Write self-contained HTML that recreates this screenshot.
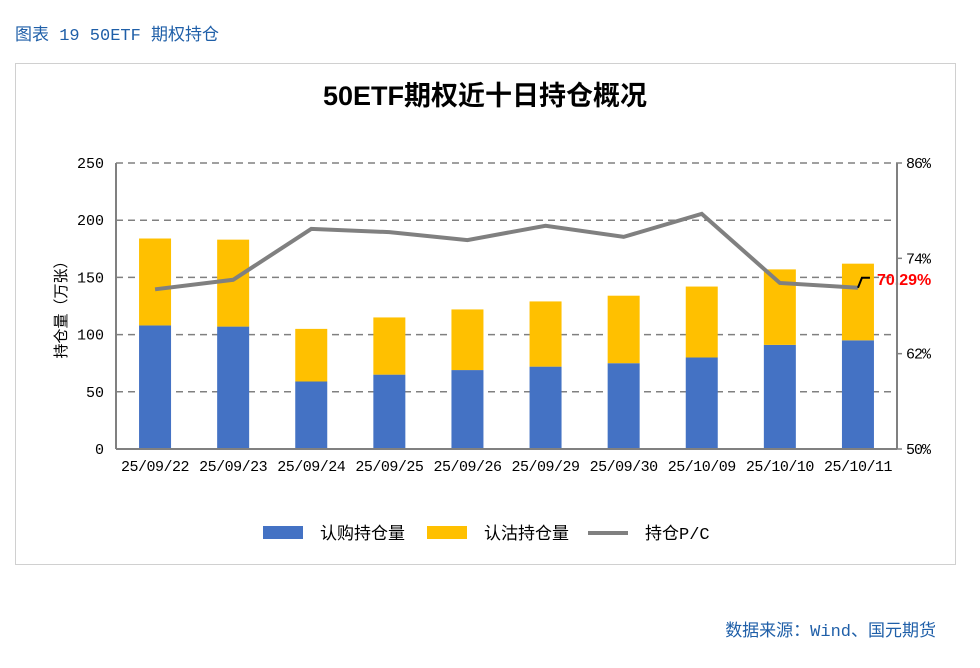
<!DOCTYPE html>
<html><head><meta charset="utf-8"><style>
body{margin:0;width:980px;height:668px;background:#fff;font-family:"Liberation Mono","Noto Sans CJK SC",monospace;position:relative;overflow:hidden}
.hdr{position:absolute;left:15px;top:20px;font-size:17px;color:#1f5fa8}
.ftr{position:absolute;right:44px;top:616px;font-size:17px;color:#1f5fa8}
.frame{position:absolute;left:15px;top:63px;width:939px;height:500px;border:1px solid #d0d0d0}
svg text{font-family:"Liberation Mono","Noto Sans CJK SC",monospace}
</style></head><body>
<div class="hdr">图表 19 50ETF 期权持仓</div>
<div class="frame"></div>
<svg id="chart" width="980" height="668" style="position:absolute;left:0;top:0">
<text x="485" y="105" text-anchor="middle" font-size="27" font-weight="bold" style="font-family:'Liberation Sans','Noto Sans CJK SC',sans-serif">50ETF期权近十日持仓概况</text>
<g id="grid"></g><g id="bars"></g><g id="line"></g><g id="axes"></g>
</svg>
<div class="ftr">数据来源：Wind、国元期货</div>
<script>
const categories=["25/09/22","25/09/23","25/09/24","25/09/25","25/09/26","25/09/29","25/09/30","25/10/09","25/10/10","25/10/11"];
const callOI=[108,107,59,65,69,72,75,80,91,95];
const putOI=[76,76,46,50,53,57,59,62,66,67];
const pcRatio=[70.1,71.3,77.7,77.3,76.3,78.1,76.7,79.6,70.9,70.29];
const leftTicks=[0,50,100,150,200,250];
const rightTicks=[50,62,74,86];
const L=116,R=897,T=163,B=449;
const NS="http://www.w3.org/2000/svg";
const yL=v=>B-(v/250)*(B-T);
const yR=v=>B-((v-50)/36)*(B-T);
const bw=(R-L)/categories.length;
const xC=i=>L+bw*(i+0.5);
function mk(tag,attrs,parent,txt){const e=document.createElementNS(NS,tag);for(const k in attrs)e.setAttribute(k,attrs[k]);if(txt!==undefined)e.textContent=txt;document.getElementById(parent).appendChild(e);return e;}
leftTicks.forEach(t=>{
 if(t>0){const g=mk('line',{x1:L,x2:R,y1:yL(t),y2:yL(t),stroke:'#808080','stroke-width':1.5,'stroke-dasharray':'7,5'},'grid');
 }
 const tx=mk('text',{x:104,y:yL(t)+5,'text-anchor':'end','font-size':15},'axes',t);
 
});
rightTicks.forEach(t=>{
 const tk=mk('line',{x1:R,x2:R+5,y1:yR(t),y2:yR(t),stroke:'#808080','stroke-width':1.5},'axes');
 
 const tx=mk('text',{x:906,y:yR(t)+5,'font-size':15,'letter-spacing':'-1'},'axes',t+'%');
 
});
categories.forEach((c,i)=>{
 const x=xC(i)-16;
 const b1=mk('rect',{x:x,y:yL(callOI[i]),width:32,height:B-yL(callOI[i]),fill:'#4472c4'},'bars');
 
 const top=callOI[i]+putOI[i];
 const b2=mk('rect',{x:x,y:yL(top),width:32,height:yL(callOI[i])-yL(top),fill:'#ffc000'},'bars');
 
 const tx=mk('text',{x:xC(i),y:471,'text-anchor':'middle','font-size':15,'letter-spacing':'-0.5'},'axes',c);
 
});
const pts=pcRatio.map((v,i)=>xC(i)+','+yR(v)).join(' ');
const pl=mk('polyline',{points:pts,fill:'none',stroke:'#808080','stroke-width':4},'line');

const n=pcRatio.length-1,lx=xC(n),ly=yR(pcRatio[n]);
const ld=mk('polyline',{points:`${lx},${ly} ${lx+4},${ly-10} ${lx+12},${ly-10}`,fill:'none',stroke:'#000','stroke-width':2},'line');

const lb=mk('text',{x:877,y:ly-3,'font-size':16,'font-weight':'bold',fill:'#ff0000',style:"font-family:'Liberation Sans',sans-serif"},'line',pcRatio[n].toFixed(2)+'%');

const a1=mk('line',{x1:L,x2:L,y1:T,y2:B,stroke:'#808080','stroke-width':2},'axes');

const a2=mk('line',{x1:R,x2:R,y1:T,y2:B,stroke:'#808080','stroke-width':2},'axes');

const a3=mk('line',{x1:L,x2:R,y1:B,y2:B,stroke:'#808080','stroke-width':2},'axes');

const yt=mk('text',{x:0,y:0,'font-size':15,'text-anchor':'middle',transform:'translate(66,306) rotate(-90)'},'axes','持仓量（万张）');

const lg=[['rect','#4472c4','认购持仓量',263],['rect','#ffc000','认沽持仓量',427],['line','#808080','持仓P/C',588]];
lg.forEach(([t,col,lab,x])=>{
 let m;
 if(t==='rect')m=mk('rect',{x:x,y:526,width:40,height:13,fill:col},'axes');
 else m=mk('line',{x1:x,x2:x+40,y1:533,y2:533,stroke:col,'stroke-width':4},'axes');
 
 const tx=mk('text',{x:x+57,y:539,'font-size':17},'axes',lab);
 
});
</script>
</body></html>
